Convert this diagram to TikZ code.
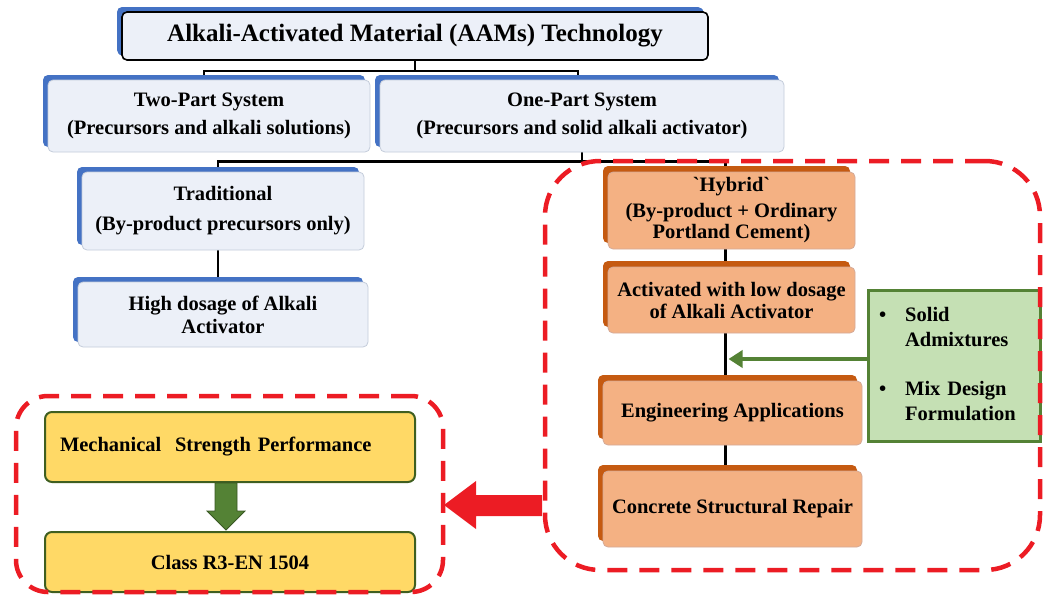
\documentclass[tikz,border=0pt]{standalone}
\usepackage{fontspec}
\setmainfont{Liberation Serif}
\newfontfamily\rawserif{Liberation Serif}
\usetikzlibrary{shadows,arrows.meta,calc,backgrounds}
\definecolor{shblue}{RGB}{68,114,196}
\definecolor{bfill}{RGB}{236,240,248}
\definecolor{bborder}{RGB}{196,204,218}
\definecolor{ofill}{RGB}{244,177,131}
\definecolor{oshadow}{RGB}{197,90,17}
\definecolor{oborder}{RGB}{212,170,152}
\definecolor{gfill}{RGB}{197,224,180}
\definecolor{gdark}{RGB}{84,130,53}
\definecolor{gdarker}{RGB}{56,87,35}
\definecolor{yfill}{RGB}{255,217,102}
\definecolor{yborder}{RGB}{63,95,32}
\definecolor{dred}{RGB}{236,28,36}
\tikzset{
  base/.style={inner sep=0pt, align=center, font=\bfseries\fontsize{20.5}{21}\selectfont},
  bluebox/.style={base, rounded corners=5pt, draw=bborder, line width=0.8pt, fill=bfill,
    general shadow={fill=shblue, shadow xshift=-5pt, shadow yshift=5pt}},
  orbox/.style={base, rounded corners=5pt, draw=oborder, line width=0.8pt, fill=ofill,
    general shadow={fill=oshadow, shadow xshift=-5pt, shadow yshift=6pt}},
  ybox/.style={base, rounded corners=7pt, draw=yborder, line width=2pt, fill=yfill},
  grbox/.style={base, draw=gdark, line width=3pt, fill=gfill},
  conn/.style={line width=2.6pt, black},
  redgroup/.style={draw=dred, line width=4.5pt, dash pattern=on 20pt off 12pt},
}
\begin{document}
\begin{tikzpicture}[x=1pt,y=-1pt]
\useasboundingbox (0,0) rectangle (1044,598);
% top tree
\node[bluebox, draw=black, line width=1.6pt, minimum width=586pt, minimum height=48pt,
  font=\bfseries\fontsize{25}{28}\selectfont,
  general shadow={fill=shblue, shadow xshift=-4pt, shadow yshift=4pt}]
  (title) at (415,36) {Alkali-Activated Material (AAMs) Technology};
\node[bluebox, minimum width=322pt, minimum height=72pt] (two) at (209,116)
  {Two-Part System\\[7pt](Precursors and alkali solutions)};
\node[bluebox, minimum width=404pt, minimum height=72pt] (one) at (582,116)
  {One-Part System\\[7pt](Precursors and solid alkali activator)};
\node[bluebox, minimum width=282pt, minimum height=78pt] (trad) at (223,211)
  {Traditional\\[9pt](By-product precursors only)};
\node[bluebox, minimum width=290pt, minimum height=65pt] (high) at (223,314.5)
  {High dosage of Alkali\\[2pt]Activator};
% hybrid branch
\node[orbox, minimum width=247pt, minimum height=77pt] (hyb) at (731.5,210.5)
  {{\rawserif\bfseries `Hybrid`}\\[5pt](By-product + Ordinary\\Portland Cement)};
\node[orbox, minimum width=247pt, minimum height=66pt] (act) at (731.5,300)
  {Activated with low dosage\\[1pt]of Alkali Activator};
\node[orbox, minimum width=259pt, minimum height=64pt] (eng) at (732.5,413)
  {Engineering Applications};
\node[orbox, minimum width=259pt, minimum height=76pt] (con) at (732.5,509)
  {Concrete Structural Repair};
\node[grbox, minimum width=172pt, minimum height=151pt, text width=150pt, align=left,
  font=\bfseries\fontsize{20.5}{25}\selectfont] (green) at (954,365.5)
  {\begin{tabular}{@{}l@{\hspace{19pt}}l@{}}
   \textbullet & Solid\\ & Admixtures\\[24pt]
   \textbullet & Mix Design\\ & Formulation
   \end{tabular}};
% yellow boxes
\node[ybox, minimum width=370pt, minimum height=70pt, text width=340pt, align=left] (mech) at (230,447)
  {Mechanical~ Strength Performance};
\node[ybox, minimum width=370pt, minimum height=60pt] (cls) at (230,562)
  {Class R3-EN 1504};
% connectors
\begin{scope}[on background layer]
\draw[conn] (title.south) -- ++(0,10) coordinate (j1);
\draw[conn] (j1) -| ($(two.north)+(-5,-3)$);
\draw[conn] (j1) -| ($(one.north)+(-4,-3)$);
\draw[conn] (one.south) -- ++(0,9) coordinate (j2);
\draw[conn] (j2) -| ($(trad.north)+(-5,-3)$);
\draw[conn] (j2) -| ($(hyb.north)+(-6,-3)$);
\draw[conn] ($(trad.south)+(-5,0)$) -- ($(high.north)+(-5,0)$);
\draw[conn] ($(hyb.south)+(-6,0)$) -- ($(act.north)+(-6,0)$);
\draw[conn] ($(act.south)+(-6,0)$) -- ($(eng.north)+(-7,0)$);
\draw[conn] ($(eng.south)+(-7,0)$) -- ($(con.north)+(-7,0)$);
\end{scope}
\coordinate (gs) at ($(green.west)+(0,-6.5)$);
\draw[gdark, line width=4pt, -{Triangle[length=14pt,width=17pt]}]
  (gs) -- ($(gs -| act.south)+(-3,0)$);
% groups
\node[redgroup, rounded corners=55pt, minimum width=495pt, minimum height=409pt, inner sep=0pt]
  (rgR) at (792.5,365.5) {};
\node[redgroup, rounded corners=32pt, minimum width=427pt, minimum height=196pt, inner sep=0pt]
  (rgL) at (229.5,494) {};
% big red arrow between groups
\fill[dred] (542,495) -- (476,495) -- (476,481) -- (444,505) -- (476,529) -- (476,516) -- (542,516) -- cycle;
% green down arrow between yellow boxes
\draw[gdarker, line width=0.8pt, fill=gdark] (215,483) -- (237,483) -- (237,511) -- (245,511)
  -- (226,530) -- (207,511) -- (215,511) -- cycle;
\end{tikzpicture}
\end{document}
